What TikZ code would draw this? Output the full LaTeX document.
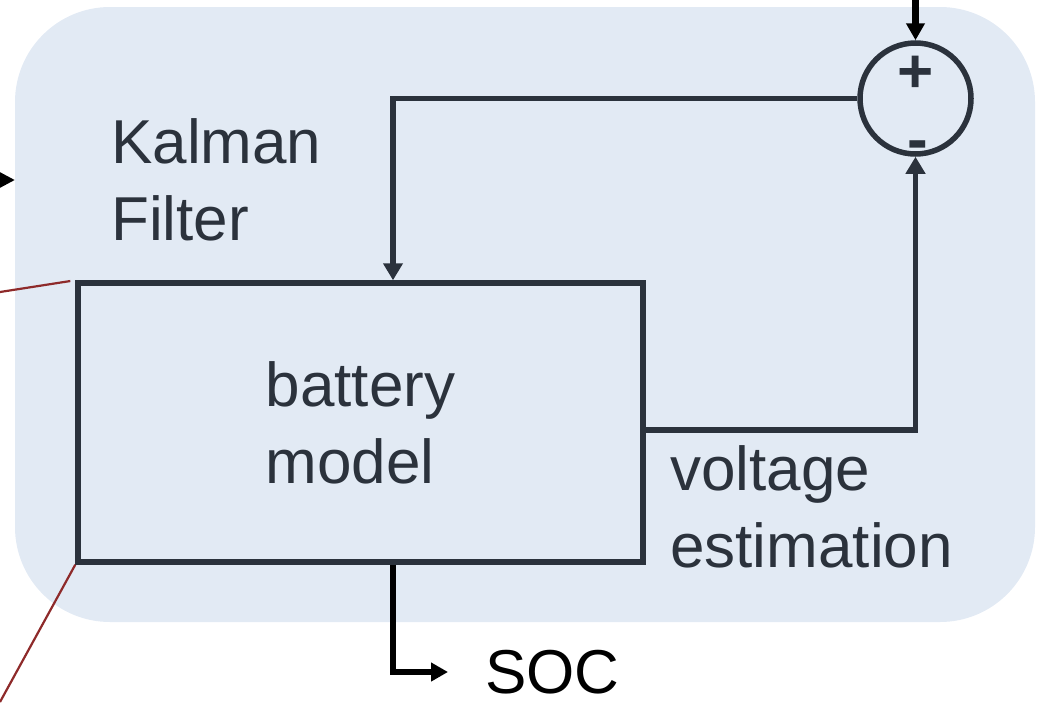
\documentclass[tikz,border=0pt]{standalone}
\usepackage{fontspec}
\setmainfont{Liberation Sans}
\usetikzlibrary{arrows.meta, positioning}
\definecolor{kfblue}{HTML}{E2EAF4}
\definecolor{ink}{HTML}{2B323C}
\definecolor{wire}{HTML}{8E2A2A}

\begin{document}
\begin{tikzpicture}[x=1pt, y=-1pt,
  every node/.style={inner sep=0pt},
  txt/.style={font=\fontsize{62}{77}\selectfont, color=ink, align=left},
  sign/.style={font=\fontsize{62}{77}\selectfont\bfseries, color=ink},
  block/.style={draw=ink, line width=5.5pt,
                minimum width=565pt, minimum height=279pt},
  sumnode/.style={circle, draw=ink, line width=5.5pt, minimum size=111pt},
  sig/.style={ink, line width=5.5pt, -{Triangle[length=17pt, width=19pt]}},
  io/.style={black, line width=5.5pt, -{Triangle[length=17pt, width=18pt]}},
  probe/.style={wire, line width=2.2pt}]
\useasboundingbox (0,0) rectangle (1038,707);

% filter frame
\node[fill=kfblue, rounded corners=95pt,
      minimum width=1020pt, minimum height=615pt] (kf) at (525,314.5) {};
\node[txt, anchor=base west] (kflabel) at (111,240) {Kalman\\Filter};

% model and comparator
\node[block, txt] (model) at (360.5,422.5) {battery\\model};
\node[sumnode] (sum) at (915.5,98.5) {};
\node[sign] (plus) at (916,74) {+};
\node[sign] (minus) at (918,151) {-};
\node[txt, anchor=base west] (vest) at (670,567) {voltage\\estimation};
\node[txt, color=black, anchor=west] (soc) at (485,672) {SOC};

% signals
\draw[sig] (sum.west) -| ([xshift=32.5pt]model.north);
\draw[sig] ([yshift=-7.5pt]model.east) -| (sum.south);
\coordinate (vin) at (915.5,-20);
\draw[io, line width=6.5pt] (vin) -- (sum.north);
\draw[io] ([xshift=32.5pt]model.south) |- ([xshift=-37pt]soc.west);
\coordinate (fin) at (-20,180);
\draw[io, line width=3pt, -{Triangle[length=15pt, width=15pt]}]
  (fin) -- (kf.west |- fin);

% probe lines
\coordinate (p1) at (0,292);
\coordinate (p2) at (0,702);
\draw[probe, shorten >=5pt] (p1) -- (model.north west);
\draw[probe] (model.south west) -- (p2);
\end{tikzpicture}
\end{document}
